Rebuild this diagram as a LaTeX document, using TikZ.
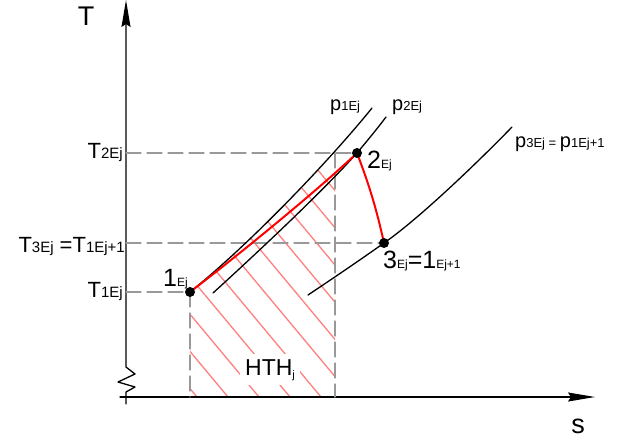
\documentclass[tikz,border=0pt]{standalone}
\usepackage{fontspec}
\setmainfont{Liberation Sans}
\usepackage{tikz}
\usetikzlibrary{arrows.meta}
\newcommand{\fsz}[2]{{\fontsize{#1}{#1}\selectfont #2}}
\tikzset{
  axisln/.style={line width=1.3pt, -{Stealth[length=27pt, width=9pt, inset=3pt]}},
  guide/.style={gray!80, line width=1.2pt, dash pattern=on 15pt off 6pt},
  isobar/.style={line width=1.3pt},
  proc/.style={red, line width=2pt},
  hatchln/.style={red!50, line width=1.3pt},
  statept/.style={circle, fill, inner sep=0pt, minimum size=10pt},
  lbl/.style={inner sep=0pt},
  every picture/.style={line cap=round, line join=round}
}

\begin{document}
\begin{tikzpicture}[x=1pt, y=-1pt]
  \useasboundingbox (0,0) rectangle (618,440);
  % states and axis points
  \coordinate (s1) at (190,292);
  \coordinate (s2) at (357,153);
  \coordinate (s3) at (384,243);
  \coordinate (T1) at (126,292);
  \coordinate (T2) at (126,153);
  \coordinate (T3) at (126,243);
  \coordinate (c2) at (335,153);
  \coordinate (b1) at (190,397);
  \coordinate (b2) at (335,397);
  
  % hatched area under 1-2
  \begin{scope}
    \clip (190,100) rectangle (335,397);
    \clip (s1) .. controls (250,244) and (330,160) .. (372,108) -- (372,397) -- (b1) -- cycle;
    \foreach \k in {0,...,11}
      \draw[hatchln] ({197+31*\k},397) -- ++(-250,-300);
  \end{scope}
  
  % axes
  \draw[axisln] (120,397) -- (595,397);
  \draw[axisln] (126,404) -- (126,392) -- (135,387) -- (118,382) -- (135,374) -- (126,367) -- (126,0);
  
  % dashed guides
  \draw[guide] (T2) -- (s2);
  \draw[guide] (T3) -- (s3);
  \draw[guide] (T1) -- (s1);
  \draw[guide] (s1) -- (b1);
  \draw[guide] (c2) -- (b2);
  
  % isobars
  \draw[isobar] (s1) .. controls (250,244) and (330,160) .. (372,108);
  \draw[isobar] (213,293) .. controls (258,252) and (322,192) .. (s2) .. controls (367,141) and (377,129) .. (386,117);
  \draw[isobar] (308,295) .. controls (335,277) and (360,260) .. (s3) .. controls (420,218) and (480,160) .. (512,127);
  
  % process
  \draw[proc] (s1) .. controls (245,250) and (320,188) .. (s2);
  \draw[proc] (s2) to[bend left=4] (s3);
  
  \node[statept] (1) at (s1) {};
  \node[statept] (2) at (s2) {};
  \node[statept] (3) at (s3) {};
  
  % labels
  \node[lbl, anchor=base] (Tax) at (86,25) {\fsz{27}{T}};
  \node[lbl, anchor=base] (sax) at (578,433) {\fsz{27}{s}};
  \node[lbl, anchor=base east] (lT2) at (123,158) {\fsz{22}{T}\fsz{15}{2Ej}};
  \node[lbl, anchor=base east] (lT3) at (125,252) {\fsz{22}{T}\fsz{15}{3Ej}\fsz{22}{ =T}\fsz{15}{1Ej+1}};
  \node[lbl, anchor=base east] (lT1) at (123,297) {\fsz{22}{T}\fsz{15}{1Ej}};
  \node[lbl, anchor=base west] (l1) at (163,286) {\fsz{25}{1}\fsz{12}{Ej}};
  \node[lbl, anchor=base west] (l2) at (367,168) {\fsz{25}{2}\fsz{12}{Ej}};
  \node[lbl, anchor=base west] (l3) at (383,268) {\fsz{25}{3}\fsz{12}{Ej}\fsz{25}{=1}\fsz{12}{Ej+1}};
  \node[lbl, anchor=base west] (lp1) at (330,110) {\fsz{20}{p}\fsz{13}{1Ej}};
  \node[lbl, anchor=base west] (lp2) at (392,110) {\fsz{20}{p}\fsz{13}{2Ej}};
  \node[lbl, anchor=base west] (lp3) at (515,147) {\fsz{20}{p}\fsz{13}{3Ej = }\fsz{20}{p}\fsz{13}{1Ej+1}};
  \node[lbl, anchor=base west, fill=white, inner sep=5pt] (hth) at (240,375) {\fsz{23}{HTH}\raisebox{-3pt}{\fsz{11}{j}}};
\end{tikzpicture}
\end{document}
